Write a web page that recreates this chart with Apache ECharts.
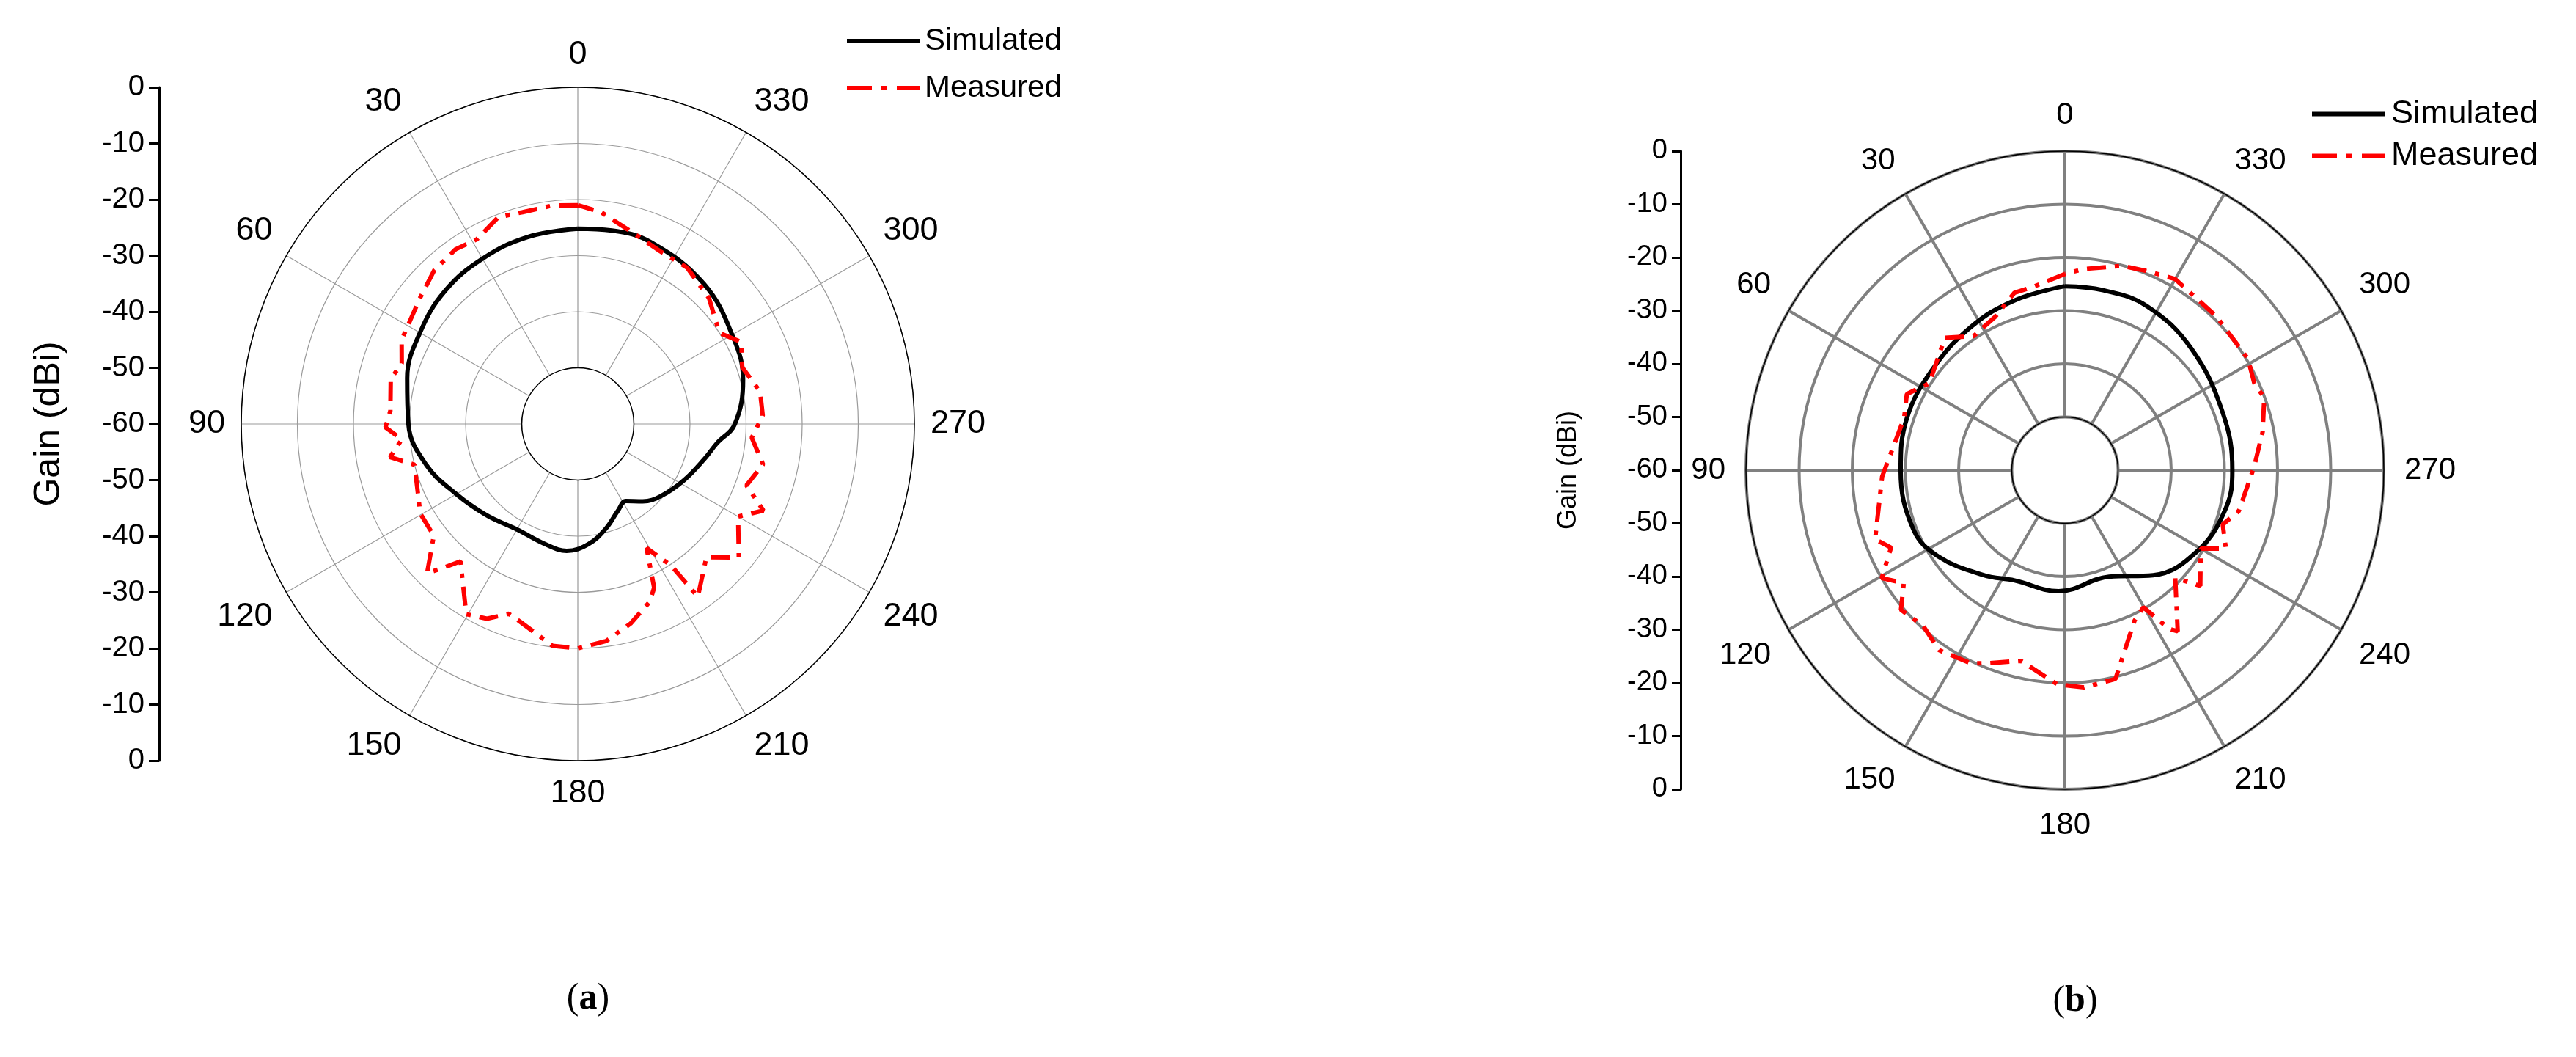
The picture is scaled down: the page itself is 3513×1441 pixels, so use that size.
<!DOCTYPE html>
<html>
<head>
<meta charset="utf-8">
<script src="https://cdn.jsdelivr.net/npm/echarts@6/dist/echarts.min.js"></script>
<style>
html,body{margin:0;padding:0;background:#fff;}
#main{width:3513px;height:1441px;}
</style>
</head>
<body>
<div id="main"></div>
<script>
// (a) simulated / measured, angle in degrees and gain in dBi
const simAAng = [0, 15, 30, 45, 60, 75, 90, 105, 120, 135, 150, 165, 175, 185, 195, 205, 212, 220, 229, 242, 255, 262, 270, 285, 299, 318, 338, 350, 360];
const simAVal = [-25.2, -25.5, -26, -26.5, -27.5, -28.5, -29.8, -32, -35, -37, -38.3, -37.8, -37.3, -38.5, -40.7, -43, -43.8, -42, -40.4, -38.6, -36.5, -35, -32, -29.5, -28.3, -26.4, -25.1, -25, -25.2];
const meaAAng = [0, 6.6, 14.6, 21, 28.7, 35, 43, 51.4, 64.5, 71, 76.5, 86, 91, 95, 100, 104, 113, 119.6, 127.8, 134.7, 137, 139.5, 149.6, 155, 160, 163.7, 173.5, 180, 187.5, 194.8, 202, 205, 209, 213.4, 214.8, 224, 230.3, 240, 245, 250, 257.7, 265.5, 272.6, 280, 289, 296.6, 302.8, 313.8, 325, 334.4, 345.6, 353.8, 360];
const meaAVal = [-21, -20.8, -21, -20.5, -22.5, -22, -22.5, -24, -25.2, -26.8, -25.7, -26.5, -25.7, -28.5, -26, -30, -29, -27.7, -27.5, -22.2, -25, -27.8, -20.7, -21.7, -24, -23.3, -20.2, -20, -21, -23.2, -25.8, -27.8, -34.7, -29.8, -22.5, -27, -22.7, -27, -23.5, -28, -26.2, -28.9, -27, -27, -29, -27.4, -30, -27.6, -26, -25.9, -24.2, -22, -21];

// (b)
const simBAng = [0, 16.6, 33.5, 52.8, 71.7, 90, 111.5, 124.3, 142, 155.5, 177, 202.5, 220, 238.6, 256.6, 270, 290, 314, 333.5, 348, 360];
const simBVal = [-25.4, -26.7, -27.8, -28.7, -28.7, -29.1, -29.4, -31.2, -35, -37.2, -37.2, -38.3, -34.2, -30.8, -28.9, -28.5, -28.4, -27, -25.5, -25.4, -25.4];
const meaBAng = [0, 9.8, 15.9, 24.4, 34.3, 42.2, 57.4, 64.3, 72, 92, 110, 114, 120.5, 125, 130.4, 137.7, 145, 154, 158.5, 167, 178, 185, 193.6, 204.8, 209.8, 213.3, 215, 225.7, 229.5, 240, 244, 251, 256.8, 271, 281, 290, 294.6, 301.3, 315.4, 330, 337.6, 344.4, 354.6, 360];
const meaBVal = [-23.1, -25, -25.3, -28.3, -29.5, -26.4, -29.7, -27, -28.2, -25.6, -22, -24.2, -20, -23, -19.5, -20.4, -18.7, -19.6, -21, -23.2, -19.7, -19, -19.6, -28.8, -30.3, -24.3, -23, -31, -26.5, -30.5, -26.3, -28.6, -26.4, -24.4, -22.1, -20.1, -20.8, -19.7, -19.4, -18.5, -19.5, -20.1, -22, -23.1];

const gainTicks = ['0', '-10', '-20', '-30', '-40', '-50', '-60', '-50', '-40', '-30', '-20', '-10', '0'];

const font = 'Liberation Sans';
const pairs = (ang, val) => ang.map((a, i) => [val[i], a]);
const solidIcon = 'path://M0,0 L100,0 L100,6 L0,6 Z';
const dashIcon = 'path://M0,0h34v6h-34z M47,0h8v6h-8z M68,0h32v6h-32z';

function polarSet(cx, cy, r, gridColor, gridWidth, labelSize, margin) {
    return {
        polar: {center: [cx, cy], radius: [r / 6, r]},
        angle: {
            type: 'value', min: 0, max: 360, interval: 30, startAngle: 90, clockwise: false,
            axisLine: {lineStyle: {color: '#000', width: 1.5}},
            axisTick: {show: false},
            splitLine: {lineStyle: {color: gridColor, width: gridWidth}},
            axisLabel: {
                fontFamily: font, fontSize: labelSize, color: '#000', margin: margin,
                formatter: v => v === 360 ? '' : String(v)
            }
        },
        radius: {
            type: 'value', min: -50, max: 0, interval: 10,
            axisLine: {show: false}, axisTick: {show: false}, axisLabel: {show: false},
            splitLine: {lineStyle: {color: gridColor, width: gridWidth}}
        }
    };
}

const pa = polarSet(788, 578, 459, '#9a9a9a', 1.2, 45, 22);
const pb = polarSet(2816, 641, 435, '#808080', 4, 42, 28);

function legendData() {
    return [{name: 'Simulated', icon: solidIcon}, {name: 'Measured', icon: dashIcon}];
}

const chart = echarts.init(document.getElementById('main'));
chart.setOption({
    backgroundColor: '#fff',
    animation: false,
    polar: [pa.polar, pb.polar],
    angleAxis: [Object.assign({polarIndex: 0}, pa.angle), Object.assign({polarIndex: 1}, pb.angle)],
    radiusAxis: [Object.assign({polarIndex: 0}, pa.radius), Object.assign({polarIndex: 1}, pb.radius)],
    grid: [
        {left: 217, top: 119, width: 1, height: 918},
        {left: 2292, top: 206, width: 1, height: 870}
    ],
    xAxis: [
        {gridIndex: 0, show: false, type: 'value'},
        {gridIndex: 1, show: false, type: 'value'}
    ],
    yAxis: [
        {
            gridIndex: 0, type: 'category', data: gainTicks, boundaryGap: false,
            axisLine: {lineStyle: {color: '#000', width: 3}},
            axisTick: {length: 14, lineStyle: {color: '#000', width: 3}},
            axisLabel: {fontFamily: font, fontSize: 40, color: '#000', margin: 20}
        },
        {
            gridIndex: 1, type: 'category', data: gainTicks, boundaryGap: false,
            axisLine: {lineStyle: {color: '#000', width: 3}},
            axisTick: {length: 12, lineStyle: {color: '#000', width: 3}},
            axisLabel: {fontFamily: font, fontSize: 38, color: '#000', margin: 18}
        }
    ],
    legend: [
        {
            data: legendData(), left: 1150, top: 30, orient: 'vertical', itemGap: 22,
            itemWidth: 102, itemHeight: 6,
            textStyle: {fontFamily: font, fontSize: 42, color: '#000'}
        },
        {
            data: legendData(), left: 3148, top: 128, orient: 'vertical', itemGap: 12,
            itemWidth: 106, itemHeight: 6,
            textStyle: {fontFamily: font, fontSize: 45, color: '#000'}
        }
    ],
    graphic: [
        {type: 'text', rotation: Math.PI / 2, x: 67, y: 578,
            style: {text: 'Gain (dBi)', font: '50px "Liberation Sans"', fill: '#000', textAlign: 'center', textVerticalAlign: 'middle'}},
        {type: 'text', rotation: Math.PI / 2, x: 2139, y: 641,
            style: {text: 'Gain (dBi)', font: '36px "Liberation Sans"', fill: '#000', textAlign: 'center', textVerticalAlign: 'middle'}},
        {type: 'text', x: 802, y: 1362,
            style: {text: '({bold|a})', rich: {bold: {fontWeight: 'bold', fontSize: 50, fontFamily: 'Liberation Serif'}}, font: '50px "Liberation Serif"', fill: '#000', textAlign: 'center', textVerticalAlign: 'middle'}},
        {type: 'text', x: 2830, y: 1365,
            style: {text: '({bold|b})', rich: {bold: {fontWeight: 'bold', fontSize: 50, fontFamily: 'Liberation Serif'}}, font: '50px "Liberation Serif"', fill: '#000', textAlign: 'center', textVerticalAlign: 'middle'}}
    ],
    series: [
        {name: 'Simulated', type: 'line', coordinateSystem: 'polar', polarIndex: 0, smooth: 0.4, symbol: 'none',
            itemStyle: {color: '#000'}, lineStyle: {color: '#000', width: 6}, data: pairs(simAAng, simAVal)},
        {name: 'Measured', type: 'line', coordinateSystem: 'polar', polarIndex: 0, symbol: 'none',
            itemStyle: {color: '#ff0000'}, lineStyle: {color: '#ff0000', width: 6, type: [26, 12, 6, 12]}, data: pairs(meaAAng, meaAVal)},
        {name: 'Simulated', type: 'line', coordinateSystem: 'polar', polarIndex: 1, smooth: 0.4, symbol: 'none',
            itemStyle: {color: '#000'}, lineStyle: {color: '#000', width: 6}, data: pairs(simBAng, simBVal)},
        {name: 'Measured', type: 'line', coordinateSystem: 'polar', polarIndex: 1, symbol: 'none',
            itemStyle: {color: '#ff0000'}, lineStyle: {color: '#ff0000', width: 6, type: [26, 12, 6, 12]}, data: pairs(meaBAng, meaBVal)}
    ]
});
</script>
</body>
</html>
